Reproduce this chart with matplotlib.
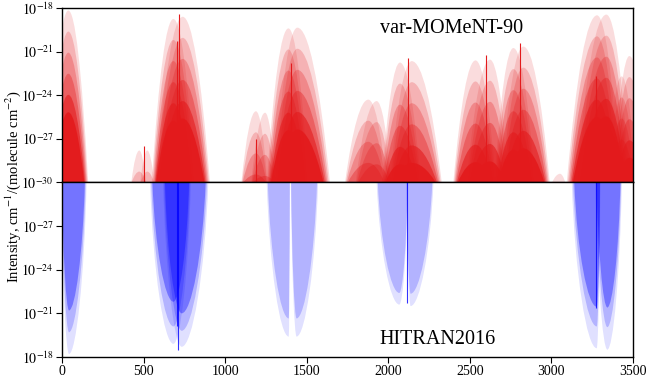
"""Band envelopes: var-MOMeNT-90 (top, red) vs HITRAN2016 (bottom, blue)."""
import matplotlib
matplotlib.use("Agg")
import matplotlib.pyplot as plt
import numpy as np
from matplotlib.path import Path
from matplotlib.patches import PathPatch
from matplotlib.ticker import FixedLocator, NullLocator, FuncFormatter

plt.rcParams.update({
    "font.family": "serif",
    "font.serif": ["Liberation Serif", "DejaVu Serif"],
    "mathtext.fontset": "stix",
    "font.size": 11,
})

# ---- var-MOMeNT-90 lobes (wavenumber cm-1, log10 intensity) ----
top_left = [-80, 190, 425, 480, 550, 573, 1100, 1160, 1255, 1300, 1735, 1800,
            1960, 2010, 2399, 2480, 2650, 2690, 3004, 3094, 3150, 3340, 3380]
top_peak_x = [39, 219, 474, 523, 683, 740, 1189, 1245, 1388, 1443, 1878, 1929,
              2072, 2144, 2535, 2624, 2767, 2828, 3053, 3280, 3337, 3431, 3478]
top_right = [161, 251, 515, 565, 816, 907, 1260, 1310, 1510, 1643, 1990, 2020,
             2200, 2328, 2660, 2740, 2900, 2990, 3085, 3420, 3480, 3520, 3600]
top_peak = [-18.17, -29.8, -27.8, -27.8, -18.75, -18.6, -25.1, -25.2, -19.4, -19.35,
            -24.3, -24.4, -21.75, -21.65, -21.6, -21.55, -20.75, -20.65, -29.4,
            -18.5, -18.45, -22.7, -21.3]
top_layer_drop = [0.0, 1.45, 2.9, 4.35, 5.8, 7.0]
top_layer_width = [1.0, 0.96, 0.92, 0.88, 0.84, 0.8]
top_layer_alpha = [0.15, 0.21, 0.27, 0.36, 0.6, 0.9]
top_spike_x = [503, 703, 715, 1189, 1405, 2118, 2600, 2808, 3274]
top_spike_peak = [-27.5, -20.3, -18.4, -27.0, -21.8, -21.45, -21.2, -20.4, -22.7]

# ---- HITRAN2016 lobes ----
bot_left = [-5, 540, 620, 1255, 1403, 1929, 2112, 3125, 3270]
bot_peak_x = [43, 683, 734, 1390, 1438, 2068, 2137, 3278, 3343]
bot_right = [151, 790, 897, 1397, 1570, 2122, 2277, 3300, 3432]
bot_layers = [
    [-18.2, -19.7, -21.2],
    [-18.9, -20.1, -21.8],
    [-18.7, -19.8, -21.0],
    [-19.4, -20.65],
    [-19.4, -20.65],
    [-21.6, -22.4],
    [-21.5, -22.35],
    [-18.6, -20.1, -21.45],
    [-18.5, -20.05, -21.4],
]
bot_layer_width = [1.0, 0.95, 0.9]
bot_layer_alpha = [0.12, 0.2, 0.35]
bot_spike_x = [703, 713, 2117, 3274]
bot_spike_peak = [-20.1, -18.5, -21.7, -21.4]

x_ticks = [0, 500, 1000, 1500, 2000, 2500, 3000, 3500]
top_y_exp = [-30, -27, -24, -21, -18]
bot_y_exp = [-27, -24, -21, -18]

RED = "#e31a1c"
BLUE = "#0000ff"
BASE = -30.0


def lobe_patch(x_left, x_peak, x_right, peak, steep, **kw):
    """Lobe as two cubic Bezier halves; steep=True gives near-vertical walls."""
    L = x_peak - x_left
    R = x_right - x_peak
    h = peak - BASE
    a, b, c = (0.12, 0.55, 0.4) if steep else (1 / 3, 2 / 3, 1 / 3)
    verts = [(x_left, BASE), (x_left + a * L, BASE + b * h),
             (x_peak - c * L, peak), (x_peak, peak),
             (x_peak + c * R, peak), (x_right - a * R, BASE + b * h),
             (x_right, BASE), (x_left, BASE)]
    codes = [Path.MOVETO] + [Path.CURVE4] * 6 + [Path.CLOSEPOLY]
    verts = [(x, 10.0 ** y) for x, y in verts]
    return PathPatch(Path(verts, codes), lw=0, edgecolor="none", **kw)


fig = plt.figure(figsize=(6.47, 3.83), dpi=100)
ax_top = fig.add_axes([0.0958, 0.5235, 0.8825, 0.4555])
ax_bot = fig.add_axes([0.0958, 0.068, 0.8825, 0.4555])

# top panel
for drop, wf, alpha in zip(top_layer_drop, top_layer_width, top_layer_alpha):
    for xl, xp, xr, pk in zip(top_left, top_peak_x, top_right, top_peak):
        p = pk - drop
        if p <= BASE + 0.2:
            continue
        ax_top.add_patch(lobe_patch(xp - (xp - xl) * wf, xp, xp + (xr - xp) * wf, p,
                                    False, facecolor=RED, alpha=alpha))
ax_top.vlines(top_spike_x, 10.0 ** BASE, 10.0 ** np.array(top_spike_peak),
              color=RED, lw=0.8)

# bottom panel
for xl, xp, xr, layers in zip(bot_left, bot_peak_x, bot_right, bot_layers):
    for p, wf, alpha in zip(layers, bot_layer_width, bot_layer_alpha):
        ax_bot.add_patch(lobe_patch(xp - (xp - xl) * wf, xp, xp + (xr - xp) * wf, p,
                                    True, facecolor=BLUE, alpha=alpha))
ax_bot.vlines(bot_spike_x, 10.0 ** BASE, 10.0 ** np.array(bot_spike_peak),
              color=BLUE, lw=0.8, alpha=0.8)

fmt = FuncFormatter(lambda v, _: r"$10^{%d}$" % int(round(np.log10(v))))
for ax, exps, ylim in ((ax_top, top_y_exp, (1e-30, 1e-18)),
                       (ax_bot, bot_y_exp, (1e-18, 1e-30))):
    ax.set_yscale("log")
    ax.set_xlim(0, 3500)
    ax.set_ylim(*ylim)
    ax.yaxis.set_major_locator(FixedLocator([10.0 ** e for e in exps]))
    ax.yaxis.set_minor_locator(NullLocator())
    ax.yaxis.set_major_formatter(fmt)
    ax.tick_params(direction="out", length=4, width=0.8, labelsize=10, pad=2)
    for s in ax.spines.values():
        s.set_linewidth(1.0)

ax_top.set_xticks([])
ax_bot.set_xticks(x_ticks)
ax_bot.set_xticklabels([str(t) for t in x_ticks])

ax_top.text(0.683, 0.885, "var-MOMeNT-90", transform=ax_top.transAxes,
            ha="center", va="center", fontsize=14.5)
ax_bot.text(0.657, 0.098, "HITRAN2016", transform=ax_bot.transAxes,
            ha="center", va="center", fontsize=14.5)
fig.text(0.02, 0.512, r"Intensity, cm$^{-1}$/(molecule cm$^{-2}$)",
         rotation=90, ha="center", va="center", fontsize=10.5)

fig.savefig("out.png", dpi=100)
